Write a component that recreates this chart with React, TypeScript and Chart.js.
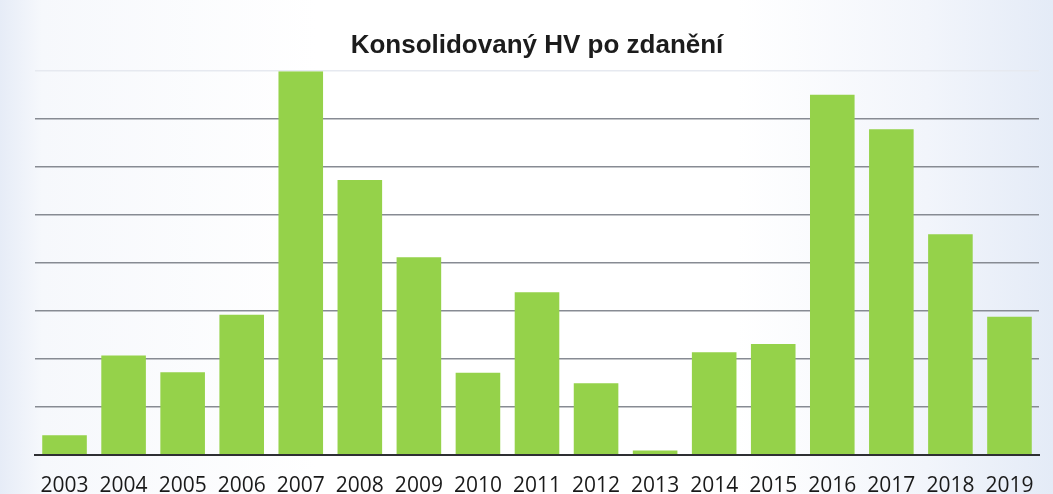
import React, { useEffect, useRef } from "react";
import { Chart, registerables } from "chart.js";

Chart.register(...registerables);

const TITLE = "Konsolidovaný HV po zdanění";
const YEARS = ["2003", "2004", "2005", "2006", "2007", "2008", "2009", "2010", "2011", "2012", "2013", "2014", "2015", "2016", "2017", "2018", "2019"];
const VALUES = [0.41, 2.07, 1.72, 2.92, 8.0, 5.73, 4.12, 1.71, 3.39, 1.49, 0.09, 2.14, 2.31, 7.51, 6.79, 4.6, 2.88];
const Y_MIN = 0;
const Y_MAX = 8;
const Y_STEP = 1;

export default function App() {
  const canvasRef = useRef<HTMLCanvasElement | null>(null);

  useEffect(() => {
    if (!canvasRef.current) return;
    const chart = new Chart(canvasRef.current, {
      type: "bar",
      data: {
        labels: YEARS,
        datasets: [
          {
            data: VALUES,
            backgroundColor: "#95d24a",
            borderWidth: 0,
            barPercentage: 0.755,
            categoryPercentage: 1,
          },
        ],
      },
      options: {
        animation: false,
        responsive: false,
        maintainAspectRatio: false,
        layout: { padding: { left: 35, right: 14, top: 0, bottom: 0 } },
        plugins: {
          legend: { display: false },
          tooltip: { enabled: false },
          title: {
            display: true,
            text: TITLE,
            color: "#1c1c1c",
            font: { family: "'Liberation Sans', Arial, sans-serif", size: 26, weight: "bold" },
            padding: { top: 30, bottom: 10 },
          },
        },
        scales: {
          x: {
            grid: { display: false, drawTicks: false },
            border: { display: true, color: "#2e2f33", width: 2 },
            ticks: {
              color: "#1a1a1a",
              font: { family: "'Open Sans', sans-serif", size: 21 },
              padding: 19,
              maxRotation: 0,
              autoSkip: false,
            },
          },
          y: {
            min: Y_MIN,
            max: Y_MAX,
            ticks: { display: false, stepSize: Y_STEP },
            border: { display: false },
            grid: {
              drawTicks: false,
              lineWidth: 1.6,
              color: (ctx: any) => (ctx.tick && ctx.tick.value === Y_MAX ? "#e6e9f0" : "#878b93"),
            },
          },
        },
      },
    });
    return () => chart.destroy();
  }, []);

  return (
    <div
      style={{
        position: "fixed",
        left: 0,
        top: 0,
        width: 1053,
        height: 494,
        overflow: "hidden",
        background:
          "linear-gradient(to right, #e6ecf7 0%, #f6f8fc 4%, #ffffff 30%, #ffffff 70%, #f2f5fb 88%, #e4ebf7 100%)",
      }}
    >
      <canvas ref={canvasRef} width={1053} height={518} style={{ display: "block" }} />
    </div>
  );
}
